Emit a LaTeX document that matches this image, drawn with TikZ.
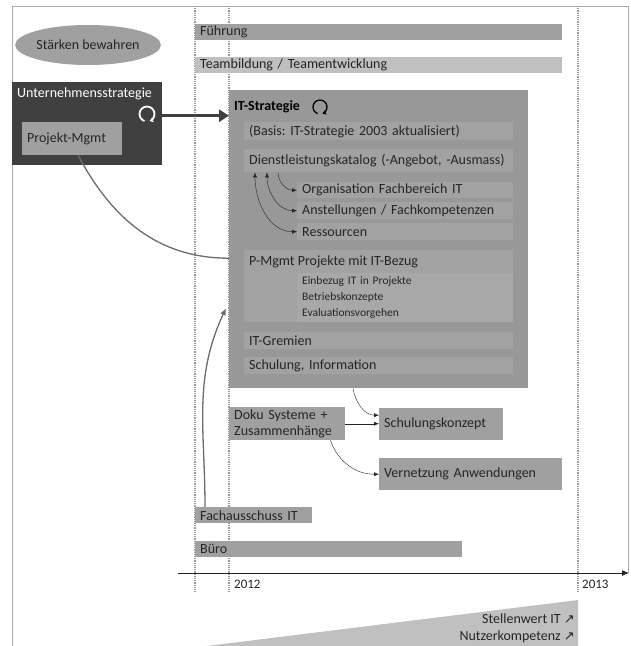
\documentclass[tikz,border=0pt]{standalone}
\usepackage{fontspec}
\setmainfont{Carlito}
\newfontfamily\arrowfont{DejaVu Sans}
\usetikzlibrary{arrows.meta,shapes.geometric}
\frenchspacing

\definecolor{bardark}{HTML}{404040}
\definecolor{barmid}{HTML}{A0A0A0}
\definecolor{barlight}{HTML}{C0C0C0}
\definecolor{itgray}{HTML}{989898}
\definecolor{rowgray}{HTML}{A2A2A2}
\definecolor{rowlight}{HTML}{A8A8A8}
\definecolor{framegray}{HTML}{AAAAAA}
\definecolor{textgray}{HTML}{252525}

\newcommand{\upright}{{\arrowfont\fontsize{13}{14}\selectfont ↗}}

\begin{document}
\begin{tikzpicture}[x=1pt,y=-1pt,
  font=\fontsize{14}{16}\selectfont, text=textgray,
  bar/.style={anchor=north west, inner xsep=5pt, inner ysep=0pt, text width=#1,
    align=left, minimum height=16pt, fill=barmid},
  row/.style={bar=#1, fill=rowgray},
  link/.style={-{Latex[length=5pt,width=4pt]}, thin, textgray},
  twolink/.style={{Latex[length=5pt,width=4pt]}-{Latex[length=5pt,width=4pt]}, thin, textgray},
  feedline/.style={gray!85!black, line width=1.3pt},
  timeline/.style={densely dotted, gray!80, line width=1.2pt}]
\useasboundingbox (0,0) rectangle (630,646);

% frame
\draw [framegray] (12,646) -- (12,6) -- (628,6) -- (628,573);

% time lines
\foreach \x in {195,229,578}
  \draw [timeline] (\x,6) -- (\x,592);

% wedge at the bottom
\fill [barlight] (207,646) -- (578,600) -- (578,646) -- cycle;
\node [anchor=east, inner sep=0pt] (stellenwert) at (575,619) {Stellenwert IT \upright};
\node [anchor=east, inner sep=0pt] (nutzer) at (575,637) {Nutzerkompetenz \upright};

% long bars
\node [bar=357pt] (fuehrung) at (195,24) {Führung};
\node [bar=357pt, fill=barlight] (team) at (195,57) {Teambildung / Teamentwicklung};
\node [bar=107pt] (fachaus) at (195,507) {Fachausschuss IT};
\node [bar=257pt] (buero) at (195,541) {Büro};

\node [ellipse, fill=barmid, minimum width=127pt, minimum height=40pt, inner sep=0pt]
  (staerken) at (88,45) {Stärken bewahren};

% Unternehmensstrategie
\node [fill=bardark, anchor=north west, minimum width=150pt, minimum height=83pt, inner sep=0pt]
  (unternehmen) at (12,82) {};
\node [anchor=north west, inner sep=0pt, text=white] (unttitle) at (17,88) {Unternehmensstrategie};
\draw [white, line width=1.8pt, -{Stealth[length=4pt,width=5pt]}] (147,114) ++(110:7.5) arc (110:430:7.5);
\node [bar=90pt, minimum height=33pt] (projekt) at (22,122) {Projekt-Mgmt};

% IT-Strategie
\node [fill=itgray, anchor=north west, minimum width=299pt, minimum height=298pt, inner sep=0pt]
  (itbox) at (229,90) {};
\node [anchor=west, inner sep=0pt, font=\fontsize{14}{16}\selectfont\bfseries, text=black]
  (ittitle) at (234,107) {IT-Strategie};
\draw [black, line width=1.3pt, -{Stealth[length=4pt,width=5pt]}] (320,107) ++(110:7) arc (110:430:7);

\node [row=259pt, minimum height=18pt] (basis) at (244,122) {(Basis: IT-Strategie 2003 aktualisiert)};
\node [row=259pt, minimum height=23pt] (dienst) at (244,149) {Dienstleistungskatalog (-Angebot, -Ausmass)};
\node [row=206pt, minimum height=16pt] (organisation) at (297,182) {Organisation Fachbereich IT};
\node [row=206pt, minimum height=17pt] (anstellungen) at (297,202) {Anstellungen / Fachkompetenzen};
\node [row=206pt, minimum height=17pt] (ressourcen) at (297,223) {Ressourcen};

\node [row=259pt, minimum height=72pt] (pmgmt) at (244,250) {};
\node [anchor=west, inner xsep=5pt, inner ysep=0pt] (pmgmttitle) at ([yshift=-12pt]pmgmt.north west)
  {P-Mgmt Projekte mit IT-Bezug};
\node [bar=206pt, fill=rowlight, minimum height=49pt, font=\fontsize{11.5}{16}\selectfont]
  (pmgmtsub) at (297,273) {Einbezug IT in Projekte\\Betriebskonzepte\\Evaluationsvorgehen};

\node [row=259pt, minimum height=17pt] (gremien) at (244,332) {IT-Gremien};
\node [row=259pt, minimum height=17pt] (schulung) at (244,357) {Schulung, Information};

\draw [link] ([xshift=34pt]dienst.south west) to[out=-90,in=180] (organisation.west);
\draw [twolink] ([xshift=23pt]dienst.south west) to[out=-90,in=180] (anstellungen.west);
\draw [twolink] ([xshift=11pt]dienst.south west) to[out=-90,in=180] (ressourcen.west);

% follow-up boxes
\node [bar=106pt, minimum height=33pt] (doku) at (229,407) {Doku Systeme +\\Zusammenhänge};
\node [bar=114pt, minimum height=32pt] (schulungskonzept) at (379,408) {Schulungskonzept};
\node [bar=173pt, minimum height=32pt] (vernetzung) at (379,458) {Vernetzung Anwendungen};

\draw [link] ([xshift=124pt]itbox.south west) to[out=-80,in=180] ([yshift=9pt]schulungskonzept.west);
\draw [link] (doku.east) -- (doku.east -| schulungskonzept.west);
\draw [link] ([xshift=-15pt]doku.south east) to[out=-70,in=180] (vernetzung.west);

% connections into IT-Strategie
\coordinate (arrstart) at ([yshift=8pt]unternehmen.east);
\draw [bardark, line width=3pt, -{Triangle[length=10pt,width=12pt]}] (arrstart) -- (arrstart -| itbox.west);
\draw [feedline] ([xshift=6pt]projekt.south) to[out=-62,in=180] ([yshift=-19pt]itbox.west);
\draw [feedline, -{Latex[length=7pt,width=6pt]}] ([xshift=10pt]fachaus.north west)
  to[out=90,in=-115] ([xshift=-3pt,yshift=-69pt]itbox.west);

% time axis
\coordinate (axisstart) at (178,573);
\coordinate (axisend) at (629,573);
\draw [textgray, line width=1pt, -{Latex[length=7pt,width=6pt]}] (axisstart) -- (axisend);
\node [anchor=west, inner sep=0pt, font=\fontsize{13}{14}\selectfont] (jahra) at (234,584) {2012};
\node [anchor=west, inner sep=0pt, font=\fontsize{13}{14}\selectfont] (jahrb) at (582,584) {2013};
\end{tikzpicture}
\end{document}
